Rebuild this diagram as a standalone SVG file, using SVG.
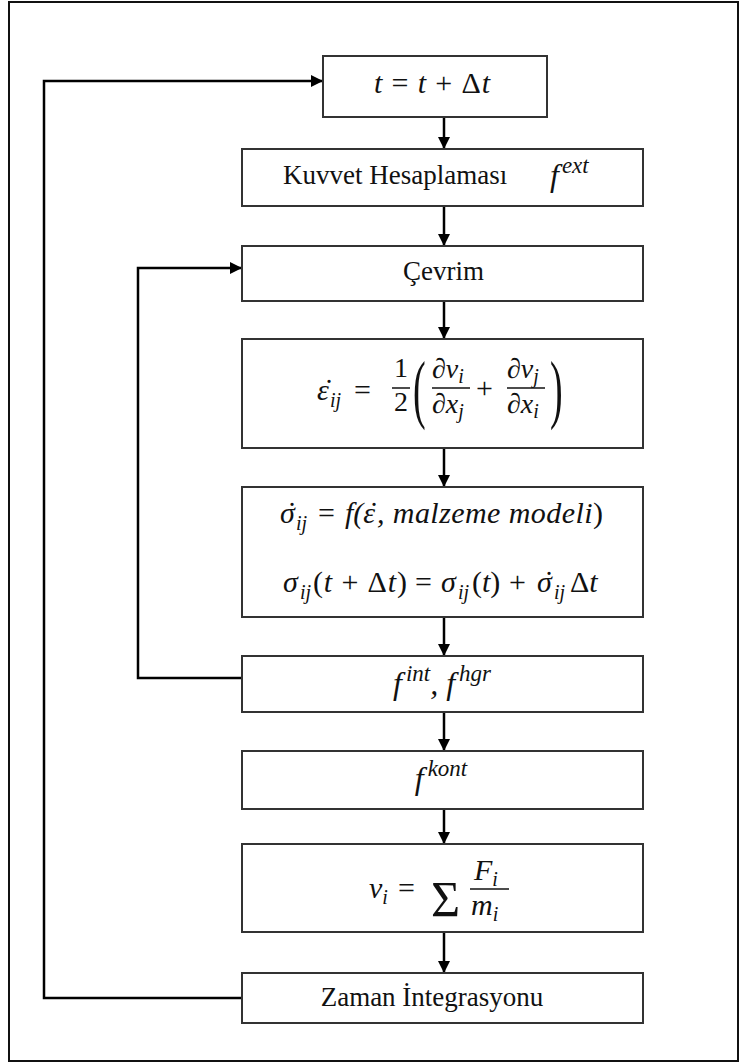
<svg xmlns="http://www.w3.org/2000/svg" width="742" height="1064" viewBox="0 0 742 1064">
<defs>
<style>
.frame{fill:#fff;stroke:#111;stroke-width:2}
.box{fill:#fff;stroke:#333;stroke-width:2}
.conn{stroke:#000;stroke-width:2.5;fill:none}
.bar{stroke:#111;stroke-width:1.5}
.tx{font-family:"Liberation Serif","Times New Roman",serif;font-size:27px;fill:#111}
.m{font-family:"Liberation Serif","DejaVu Serif",serif;font-style:italic;font-size:30px;fill:#111}
.n{font-style:normal}
.s{font-size:20px}
.sp{font-size:23px}
.f{font-size:28px}
.big{font-size:32px}
.paren{font-size:38px;font-style:normal}
.sum{font-size:50px;font-style:normal}
</style>
<marker id="ah" viewBox="0 0 12 12" refX="12" refY="6" markerWidth="12" markerHeight="12" markerUnits="userSpaceOnUse" orient="auto">
<path d="M0,0 L12,6 L0,12 Z" fill="#000"/>
</marker>
</defs>
<rect class="frame" x="9" y="2" width="729" height="1059"/>

<g id="connectors">
<line class="conn" x1="444" y1="117" x2="444" y2="149" marker-end="url(#ah)"/>
<line class="conn" x1="444" y1="206" x2="444" y2="246" marker-end="url(#ah)"/>
<line class="conn" x1="444" y1="301" x2="444" y2="339" marker-end="url(#ah)"/>
<line class="conn" x1="444" y1="448" x2="444" y2="487" marker-end="url(#ah)"/>
<line class="conn" x1="444" y1="617" x2="444" y2="656" marker-end="url(#ah)"/>
<line class="conn" x1="444" y1="712" x2="444" y2="751" marker-end="url(#ah)"/>
<line class="conn" x1="444" y1="809" x2="444" y2="844" marker-end="url(#ah)"/>
<line class="conn" x1="444" y1="932" x2="444" y2="973" marker-end="url(#ah)"/>
<polyline class="conn" points="242,998 44,998 44,81 323,81" marker-end="url(#ah)"/>
<polyline class="conn" points="242,678 138,678 138,268 242,268" marker-end="url(#ah)"/>
</g>

<g id="n1">
<rect class="box" x="323" y="56" width="224" height="61"/>
<text class="m" x="374" y="93" textLength="116" lengthAdjust="spacing">t<tspan class="n"> = </tspan>t<tspan class="n"> + Δ</tspan>t</text>
</g>

<g id="n2">
<rect class="box" x="242" y="149" width="401" height="57"/>
<text class="tx" x="283" y="184">Kuvvet Hesaplaması</text>
<text class="m big" x="550" y="186">f<tspan class="sp" dx="3" dy="-13">ext</tspan></text>
</g>

<g id="n3">
<rect class="box" x="242" y="246" width="401" height="55"/>
<text class="tx" x="403" y="280">Çevrim</text>
</g>

<g id="n4">
<rect class="box" x="242" y="339" width="401" height="109"/>
<text class="m" x="317" y="400">ε<tspan class="n" x="324">˙</tspan><tspan class="s" x="330" dy="7">ij</tspan></text>
<text class="m n" x="354" y="400">=</text>
<text class="m n f" x="401" y="377" text-anchor="middle">1</text>
<line class="bar" x1="392" y1="388" x2="410" y2="388"/>
<text class="m n f" x="401" y="411" text-anchor="middle">2</text>
<text class="m paren" x="413" y="207" transform="scale(1,2)">(</text>
<text class="m f" x="432" y="378">∂v<tspan class="s" dy="5">i</tspan></text>
<line class="bar" x1="432" y1="388" x2="470" y2="388"/>
<text class="m f" x="432" y="413">∂x<tspan class="s" dy="5">j</tspan></text>
<text class="m n" x="476" y="398">+</text>
<text class="m f" x="507" y="378">∂v<tspan class="s" dy="5">j</tspan></text>
<line class="bar" x1="507" y1="388" x2="545" y2="388"/>
<text class="m f" x="507" y="413">∂x<tspan class="s" dy="5">i</tspan></text>
<text class="m paren" x="550" y="207" transform="scale(1,2)">)</text>
</g>

<g id="n5">
<rect class="box" x="242" y="487" width="401" height="130"/>
<text class="m" x="280" y="523">σ<tspan class="n" x="287">˙</tspan><tspan class="s" x="296" dy="7">ij</tspan></text>
<text class="m n" x="318" y="523">=</text>
<text class="m" x="345" y="523">f(ε<tspan class="n" x="369">˙</tspan><tspan x="377" textLength="226" lengthAdjust="spacing">, malzeme modeli<tspan class="n">)</tspan></tspan></text>

<text class="m" x="283" y="592">σ<tspan class="s" x="300" dy="7">ij</tspan></text>
<text class="m" x="313" y="592" textLength="94" lengthAdjust="spacing"><tspan class="n">(</tspan>t<tspan class="n"> + Δ</tspan>t<tspan class="n">)</tspan></text>
<text class="m n" x="415" y="592">=</text>
<text class="m" x="441" y="592">σ<tspan class="s" x="458" dy="7">ij</tspan></text>
<text class="m" x="472" y="592"><tspan class="n">(</tspan>t<tspan class="n">)</tspan></text>
<text class="m n" x="509" y="592">+</text>
<text class="m" x="537" y="592">σ<tspan class="n" x="544">˙</tspan><tspan class="s" x="554" dy="7">ij</tspan></text>
<text class="m" x="570" y="592"><tspan class="n">Δ</tspan>t</text>
</g>

<g id="n6">
<rect class="box" x="242" y="656" width="401" height="56"/>
<text class="m big" x="442" y="694" text-anchor="middle">f<tspan class="sp" dx="4" dy="-13">int</tspan><tspan dy="13">, f</tspan><tspan class="sp" dx="4" dy="-13">hgr</tspan></text>
</g>

<g id="n7">
<rect class="box" x="242" y="751" width="401" height="58"/>
<text class="m big" x="441" y="789" text-anchor="middle">f<tspan class="sp" dx="4" dy="-13">kont</tspan></text>
</g>

<g id="n8">
<rect class="box" x="242" y="844" width="401" height="88"/>
<text class="m" x="369" y="898">v<tspan class="s" dy="6">i</tspan></text>
<text class="m n" x="398" y="898">=</text>
<text class="m sum" x="431" y="916">Σ</text>
<text class="m" x="474" y="880">F<tspan class="s" dy="6">i</tspan></text>
<line class="bar" x1="470" y1="889" x2="509" y2="889"/>
<text class="m" x="471" y="915">m<tspan class="s" dy="6">i</tspan></text>
</g>

<g id="n9">
<rect class="box" x="242" y="973" width="401" height="50"/>
<text class="tx" x="432" y="1006" text-anchor="middle">Zaman İntegrasyonu</text>
</g>
</svg>
